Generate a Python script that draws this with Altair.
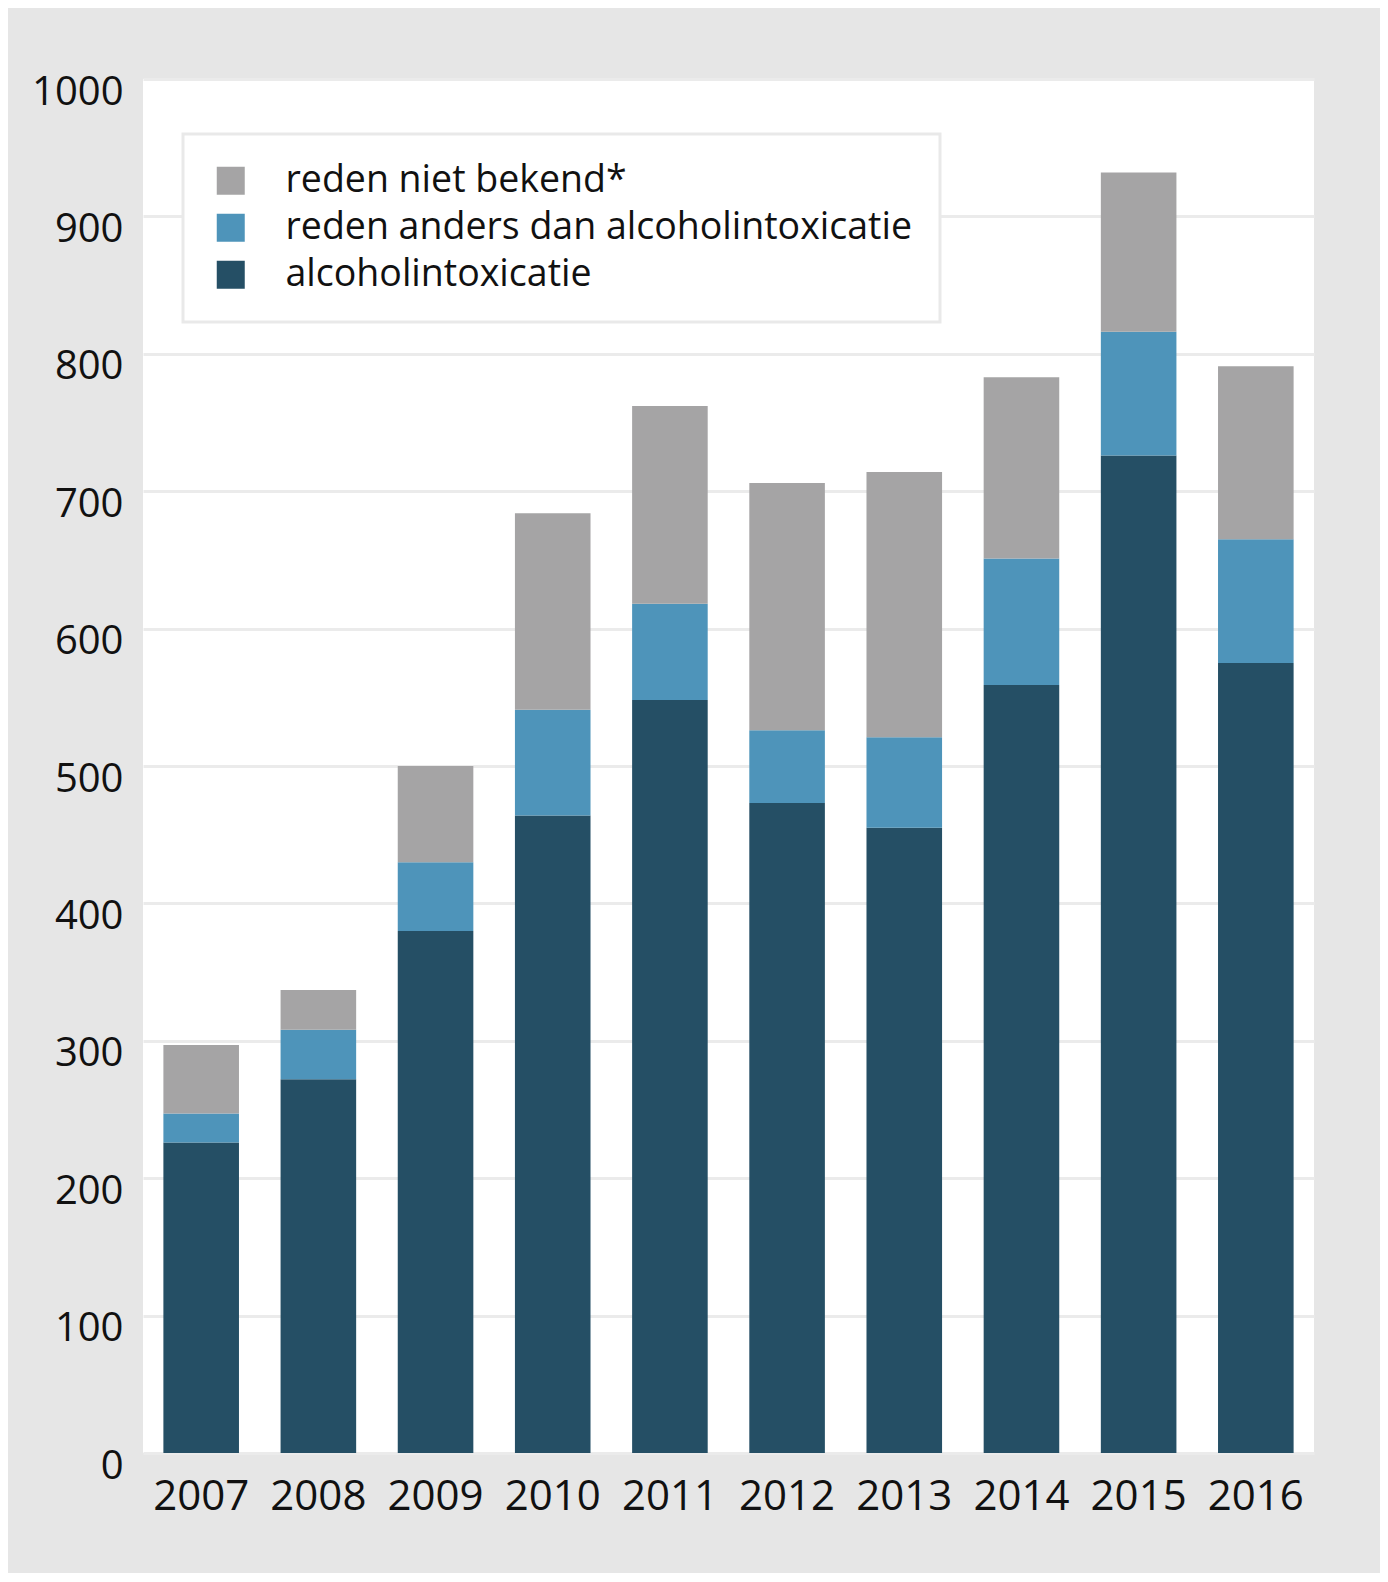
import altair as alt
import pandas as pd

years = ["2007", "2008", "2009", "2010", "2011", "2012", "2013", "2014", "2015", "2016"]
alcoholintoxicatie = [226, 272, 380, 464, 548, 473, 455, 559, 726, 575]
reden_anders = [21, 36, 50, 77, 70, 53, 66, 92, 90, 90]
reden_onbekend = [50, 29, 70, 143, 144, 180, 193, 132, 116, 126]

series_names = ["reden niet bekend*", "reden anders dan alcoholintoxicatie", "alcoholintoxicatie"]
series_colors = ["#a5a4a5", "#4e94ba", "#254f65"]

rows = []
for i, y in enumerate(years):
    rows.append({"jaar": y, "reeks": series_names[2], "waarde": alcoholintoxicatie[i], "volgorde": 0})
    rows.append({"jaar": y, "reeks": series_names[1], "waarde": reden_anders[i], "volgorde": 1})
    rows.append({"jaar": y, "reeks": series_names[0], "waarde": reden_onbekend[i], "volgorde": 2})
df = pd.DataFrame(rows)

chart = alt.Chart(df).mark_bar().encode(
    x=alt.X("jaar:N", title=None,
            scale=alt.Scale(paddingInner=0.355, paddingOuter=0.174),
            axis=alt.Axis(labelAngle=0, labelFont="Open Sans", labelFontSize=42,
                          labelColor="#111111", labelPadding=23, domain=False, ticks=False,
                          grid=False)),
    y=alt.Y("waarde:Q", title=None, stack="zero",
            scale=alt.Scale(domain=[0, 1000], nice=False),
            axis=alt.Axis(values=list(range(0, 1001, 100)), format="d",
                          labelFont="Open Sans",
                          labelFontSize=40, labelColor="#111111", labelPadding=20,
                          labelBaseline="top", labelOffset=-7,
                          domain=False, ticks=False, grid=True,
                          gridColor="#ebebeb", gridWidth=3)),
    color=alt.Color("reeks:N", title=None,
                    scale=alt.Scale(domain=series_names, range=series_colors),
                    legend=alt.Legend(orient="none", legendX=40, legendY=55,
                                      fillColor="white", strokeColor="#e9e9e9",
                                      padding=28, symbolOffset=1,
                                      symbolType="square", symbolSize=784,
                                      symbolStrokeWidth=0, labelFont="Open Sans",
                                      labelFontSize=37.5, labelColor="#111111",
                                      labelOffset=36, rowPadding=8, labelLimit=1000)),
    order=alt.Order("volgorde:Q", sort="ascending"),
).properties(
    width=1171,
    height=1374,
    background="#e6e6e6",
    padding={"left": 135, "top": 71, "right": 66, "bottom": 120},
    autosize=alt.AutoSizeParams(type="none"),
).configure_view(
    fill="white", stroke=None
).configure_legend(
    strokeWidth=3
)

chart.save("out.html", embed_options={"renderer": "svg", "actions": False})
